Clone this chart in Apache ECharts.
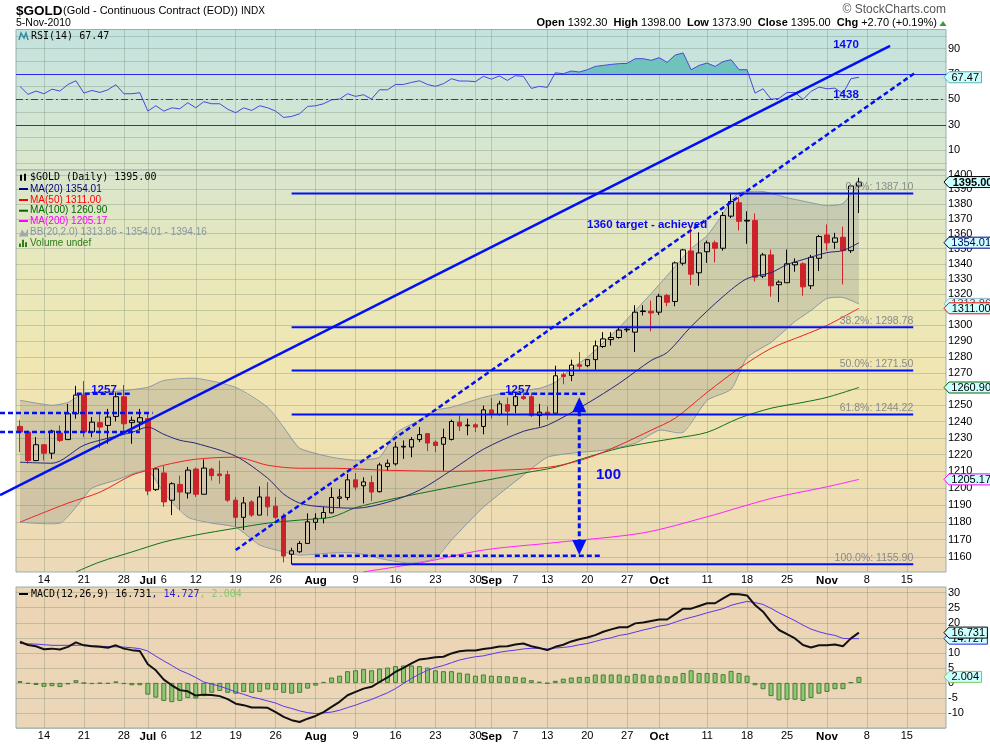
<!DOCTYPE html>
<html><head><meta charset="utf-8">
<script src="https://cdn.jsdelivr.net/npm/echarts@6/dist/echarts.min.js"></script>
<style>html,body{margin:0;padding:0;background:#fff}#c{width:990px;height:744px}</style>
</head><body><div id="c"></div>
<script>
// ---------------- DATA ----------------
// daily candles Jun 9 2010 .. Nov 5 2010 : [open, high, low, close]
const ohlc = [
[1237.0,1240.7,1221.4,1233.6],[1233.6,1234.6,1214.6,1216.4],[1216.4,1230.5,1216.0,1225.9],[1225.9,1226.0,1216.4,1220.8],
[1220.8,1235.0,1217.4,1234.2],[1233.0,1237.6,1227.5,1228.5],[1229.0,1250.8,1229.0,1244.7],[1244.7,1261.9,1241.7,1256.2],
[1256.2,1264.9,1230.5,1233.6],[1233.6,1242.7,1230.5,1239.6],[1239.3,1244.7,1224.0,1236.6],[1237.6,1247.7,1226.5,1242.7],
[1243.1,1257.8,1240.0,1255.2],[1255.2,1262.5,1233.6,1238.6],[1239.3,1243.0,1226.5,1240.7],[1239.6,1247.7,1234.6,1242.3],
[1241.7,1244.7,1195.8,1198.3],[1199.1,1212.0,1198.3,1211.4],[1209.0,1213.2,1189.0,1191.9],[1192.9,1203.5,1184.2,1202.6],
[1202.2,1207.4,1187.1,1197.7],[1197.1,1212.6,1193.9,1210.7],[1211.3,1212.2,1194.8,1196.4],[1196.4,1217.0,1196.4,1211.9],
[1211.3,1212.2,1204.5,1207.4],[1208.4,1216.4,1202.6,1207.4],[1208.0,1210.3,1191.9,1192.9],[1192.9,1194.8,1177.4,1182.9],
[1182.9,1194.8,1175.6,1191.3],[1191.9,1192.9,1183.2,1184.2],[1184.2,1201.0,1184.2,1194.8],[1194.8,1203.5,1183.6,1189.0],
[1189.4,1194.8,1181.7,1182.9],[1183.6,1185.2,1157.0,1160.6],[1161.6,1165.3,1155.9,1163.6],[1163.0,1169.1,1162.4,1167.8],
[1167.8,1185.2,1167.8,1180.3],[1180.0,1185.2,1175.6,1182.3],[1182.3,1189.0,1179.4,1185.7],[1185.5,1200.4,1185.2,1194.5],
[1194.0,1199.5,1188.8,1194.8],[1194.5,1208.4,1192.9,1204.9],[1204.9,1209.0,1198.7,1200.6],[1201.4,1206.4,1191.0,1203.7],
[1203.3,1207.4,1192.5,1197.7],[1197.9,1215.1,1197.4,1213.8],[1212.8,1217.0,1210.3,1214.8],[1214.4,1227.5,1213.4,1224.5],
[1224.5,1228.5,1217.4,1225.0],[1224.5,1230.5,1218.4,1229.0],[1229.0,1236.6,1227.5,1232.0],[1232.6,1233.0,1222.0,1226.9],
[1227.5,1228.5,1221.4,1225.4],[1226.2,1235.6,1210.3,1230.2],[1229.1,1241.1,1228.5,1240.0],[1239.6,1243.6,1234.2,1237.2],
[1237.4,1241.7,1231.6,1237.8],[1238.0,1239.0,1233.6,1236.6],[1237.0,1249.7,1232.2,1247.1],[1247.1,1254.3,1241.7,1244.3],
[1244.3,1252.7,1243.6,1250.8],[1250.3,1254.7,1237.6,1246.3],[1249.7,1257.8,1245.1,1255.2],[1255.2,1257.8,1253.1,1254.1],
[1255.2,1257.8,1242.7,1243.6],[1243.6,1250.8,1237.0,1245.7],[1245.7,1249.2,1241.1,1244.3],[1245.1,1274.5,1245.1,1268.2],
[1268.8,1270.3,1262.9,1267.8],[1268.4,1278.3,1264.9,1274.9],[1275.1,1283.1,1271.5,1274.1],[1274.5,1278.5,1273.6,1278.3],
[1278.3,1290.4,1272.0,1287.0],[1286.6,1295.7,1285.7,1291.4],[1291.0,1295.7,1287.2,1292.3],[1292.3,1299.1,1291.6,1297.0],
[1297.2,1299.1,1295.7,1297.6],[1295.7,1313.0,1283.1,1308.5],[1308.9,1313.0,1306.4,1309.3],[1309.1,1316.0,1296.3,1308.0],
[1308.5,1320.4,1306.7,1318.8],[1319.3,1320.4,1312.3,1314.9],[1315.4,1341.5,1312.3,1340.6],[1340.4,1349.9,1338.9,1349.2],
[1348.5,1364.8,1326.1,1333.2],[1334.1,1360.9,1325.6,1347.2],[1348.0,1355.4,1340.6,1353.9],[1353.9,1355.4,1341.0,1350.3],
[1350.3,1374.6,1348.7,1372.3],[1371.8,1387.1,1370.5,1381.7],[1380.8,1384.8,1362.2,1368.3],[1368.5,1375.1,1353.3,1369.0],
[1368.9,1373.6,1328.4,1331.2],[1331.9,1347.2,1330.6,1345.9],[1345.9,1349.4,1318.5,1325.6],[1326.3,1329.1,1315.0,1328.0],
[1327.6,1349.4,1327.6,1340.0],[1339.3,1343.6,1334.8,1341.0],[1340.0,1341.0,1319.1,1324.9],[1325.6,1345.9,1323.4,1344.3],
[1343.7,1359.2,1335.3,1358.1],[1359.2,1366.2,1348.7,1353.9],[1354.3,1360.6,1349.9,1357.2],[1357.6,1364.8,1326.5,1348.7],
[1348.7,1393.7,1347.2,1392.3],[1392.3,1398.0,1373.9,1395.0]
];
const rsi = [60.3,54,56.6,54.5,58.1,56.6,61.8,64.7,55,57.1,55.5,57.6,61.6,54.5,54.5,55.3,40.8,45,40.8,43.4,
42.6,47.4,43.4,48.2,46.6,46.6,42.3,39.5,43.4,41.3,45,43.4,40.8,35.8,36.6,38.7,44.5,45,46.6,49.7,
50.3,54.5,52.4,53.7,50.3,57.6,57.6,61.8,61.8,63.4,64.7,61.8,60.3,62.4,66.3,64.5,64.5,64,68.2,66,
68.5,65,68.7,68.2,58.7,60.3,59.5,71,70.3,72.4,71.6,73.4,76,76.8,77.6,78.2,78.4,82.1,82.1,80.8,
82.9,79.2,85,86.6,73.4,76.8,78.7,76,79.8,81.3,73.4,73.4,55,58.4,50.2,50.8,55.5,55.5,50,56.3,
59.7,58.4,58.9,54.5,66.3,67.47];
const macd = [13.7,12.6,12.2,11.2,11.4,11.1,12,13.5,12.5,12.2,12,11.7,12.5,11.4,10.9,10.6,
6.2,4.2,1.1,-0.8,-2.4,-2.8,-4.2,-3.9,-4,-4.4,-5.4,-6.9,-7.4,-8.2,-8.2,-8.3,-9.7,-11.3,-12.4,-13,-11.9,-11,-9.7,
-8,-6.3,-4.1,-3,-1.9,-1.3,0.3,1.8,3.7,5,6.5,7.8,8.1,8.5,8.7,9.8,10.5,10.8,10.8,11.3,11.6,12.1,12.2,12.8,13.1,12.2,11.6,10.9,12,12.7,13.8,14.5,15.1,15.9,17,17.8,18.5,18.5,19.8,20.1,20.6,21.1,
21.1,22.9,24.7,24.7,25.6,26.5,26.5,28.1,29.6,29.5,29.1,25.9,23.7,20.3,17.6,16.2,14.8,12.6,11.8,12.5,12.5,12.8,12.2,14.8,16.731];
const signal = [13.1,13.0,12.9,12.7,12.5,12.5,12.5,12.5,12.6,12.4,12.2,12.1,12,11.9,11.7,11.4,
10.6,8.9,7.3,5.8,4.2,3.1,1.8,0.3,-0.4,-1.1,-2,-3,-3.8,-4.7,-5.3,-6,-6.7,-7.8,-8.5,-9.3,-9.9,-10.2,-10,
-9.7,-9.1,-8.2,-7.4,-6.4,-5.5,-4.4,-3.3,-1.9,-0.2,1.5,2.9,4.2,5.1,5.8,6.7,7.6,8.2,8.7,9,9.6,10.2,10.6,10.9,11.3,11.5,11.5,11.3,11.6,11.8,12.1,12.7,13.1,13.8,14.5,15,15.8,16.2,16.9,17.6,18.2,18.9,
19.3,20.2,21.1,21.8,22.5,23.3,24,24.7,25.8,26.5,27.1,26.7,26.1,24.8,23.3,22,20.7,19.2,17.9,17,16.3,15.8,14.8,14.7,14.727];
const hist = [0.6,-0.3,-0.7,-1.3,-1.1,-1.4,-0.5,0.9,-0.1,-0.4,-0.2,-0.3,0.5,-0.4,-0.8,-0.8,
-3.9,-4.9,-6,-6.4,-6,-5,-5.2,-4.4,-3.3,-2.7,-3.3,-3.6,-3,-3.3,-3,-2.2,-2.4,-3.3,-3.6,-3.3,-1.9,-0.9,0.3,
1.8,2.4,3.9,4.2,4.6,4.2,4.8,5.1,5.6,5.8,5.8,5.6,5.1,4.2,3.9,3.9,3.4,3.1,2.4,2.8,2.4,2.3,2.2,2,1.8,0.9,0.4,-0.2,0.7,1.4,1.8,2,2,2.8,2.8,2.8,2.8,2.4,3,2.8,2.4,2.5,
2.2,2.2,3.3,4.2,3.3,3.3,3.3,2.9,4.0,3.3,2.4,-0.8,-2.1,-4.4,-5.8,-5.6,-5.6,-6.0,-5.0,-3.6,-3.0,-2.1,-2.1,0.2,2.004];
// indicator lines read at sample sessions: [session index, value]
const ma20 = [[0,1215.4],[4,1214.8],[8,1225.6],[11,1229.8],[14,1233.4],[16,1236.5],[18,1232.2],[20,1228.6],[22,1226.8],[27,1219.0],[31,1205.9],[33,1196.5],[35,1191.2],[37,1189.4],[42,1188.2],[46,1191.7],[50,1198.8],[54,1210.6],[58,1223.2],[63,1234.0],[66,1237.7],[71,1251.1],[75,1263.5],[79,1277.8],[81,1282.8],[84,1299.3],[88,1318.6],[91,1330.3],[94,1334.2],[96,1339.5],[98,1342.8],[101,1347.4],[103,1348.8],[105,1354.01]];
const ma50 = [[0,1180.1],[6,1191.2],[10,1197.6],[14,1207.7],[16,1210.6],[18,1213.6],[22,1217.2],[27,1218.4],[31,1213.6],[35,1211.8],[39,1211.8],[46,1210.6],[54,1210.0],[63,1211.2],[67,1213.0],[71,1217.8],[75,1225.6],[79,1234.7],[82,1242.0],[86,1257.9],[90,1272.8],[94,1285.4],[98,1293.6],[101,1300.0],[105,1311.0]];
const ma100 = [[7,1151.5],[10,1157.2],[14,1162.9],[18,1168.6],[22,1172.6],[27,1176.6],[31,1179.5],[35,1181.3],[39,1183.0],[42,1188.5],[46,1193.0],[54,1200.6],[63,1208.9],[67,1212.4],[71,1218.4],[75,1223.8],[79,1227.4],[82,1229.8],[86,1233.4],[90,1242.0],[94,1248.1],[98,1251.7],[101,1254.8],[105,1260.9]];
const ma200 = [[43,1151.6],[50,1156.6],[58,1164.0],[67,1168.3],[78,1173.9],[86,1183.2],[94,1193.9],[101,1200.8],[105,1205.17]];
const bbUpper = [[0,1253.0],[4,1249.9],[6,1251.7],[8,1257.3],[12,1258.5],[16,1261.0],[18,1265.3],[22,1266.6],[27,1261.0],[31,1248.7],[33,1236.5],[35,1223.8],[39,1218.4],[42,1216.6],[45,1218.4],[47,1232.8],[50,1240.8],[52,1246.9],[54,1248.7],[58,1254.8],[61,1257.9],[65,1260.4],[67,1264.1],[69,1272.8],[71,1279.7],[75,1298.7],[79,1320.6],[82,1338.2],[84,1350.1],[86,1358.7],[88,1373.5],[89,1382.3],[90,1387.8],[93,1388.5],[96,1384.3],[99,1380.9],[101,1378.9],[103,1380.3],[105,1394.16]];
const bbLower = [[0,1180.1],[5,1179.5],[7,1188.8],[9,1200.0],[12,1204.7],[16,1210.6],[18,1197.1],[21,1183.0],[24,1179.5],[27,1177.2],[30,1166.9],[33,1162.9],[35,1161.1],[39,1162.3],[42,1162.3],[46,1158.3],[49,1156.6],[52,1159.4],[54,1169.7],[58,1188.8],[63,1207.7],[66,1218.4],[69,1220.8],[73,1222.6],[77,1226.8],[80,1234.7],[83,1233.4],[86,1253.0],[89,1259.8],[91,1279.7],[94,1289.2],[97,1302.5],[99,1309.6],[101,1317.4],[103,1318.0],[105,1313.86]];
// x-axis labels: [session index, text]
const xLabels = [[3,'14'],[8,'21'],[13,'28'],[16,'Jul'],[18,'6'],[22,'12'],[27,'19'],[32,'26'],[37,'Aug'],[42,'9'],[47,'16'],[52,'23'],[57,'30'],[59,'Sep'],[62,'7'],[66,'13'],[71,'20'],[76,'27'],[80,'Oct'],[86,'11'],[91,'18'],[96,'25'],[101,'Nov'],[106,'8'],[111,'15']];
const xGridIdx = [3,8,13,16,22,27,32,37,42,47,52,57,59,66,71,76,80,86,91,96,101,106,111];
const priceTicks = [1160,1170,1180,1190,1200,1210,1220,1230,1240,1250,1260,1270,1280,1290,1300,1310,1320,1330,1340,1350,1360,1370,1380,1390,1400];
const rsiTicks = [10,30,50,70,90];
const rsiGrid = [0,10,20,30,40,50,60,70,80,90,100];
const rsiLevels = [[70,'solid'],[30,'solid'],[50,'dashdot']];
const macdTicks = [-10,-5,0,5,10,15,20,25,30];
const macdGrid = [-15,-10,-5,0,5,10,15,20,25,30];
const fibLevels = [['0.0%',1387.10],['38.2%',1298.78],['50.0%',1271.50],['61.8%',1244.22],['100.0%',1155.90]];
const fibSpan = [34, 111.8];
const trendLines = [{from:[-2.5,1195.9], to:[108.9,1491.6], dash:false},{from:[27.0,1164.0], to:[112.0,1471.9], dash:true}];
const dashLevels = [[-2.5,16.6,1245.2],[-2.5,15.0,1233.6],[7.1,14.0,1257.1],[60.1,71.0,1257.1],[36.9,72.6,1160.7]];
const moveArrow = {x:70, low:1161.1, high:1254.8};

// ---------------- CHART ----------------
const L = Math.log;
const X0 = -0.5, X1 = 115.9;
const PMIN = 1151.5, PMAX = 1403.3;
const FONT = '"Liberation Sans", Arial, sans-serif';
const MONO = '"DejaVu Sans Mono", monospace';
const GRIDC = 'rgba(105,128,105,0.30)';
const chart = echarts.init(document.getElementById('c'), null, {width:990, height:744});

function grad(stops){return {type:'linear',x:0,y:0,x2:0,y2:1,colorStops:stops.map((c,i)=>({offset:i/(stops.length-1),color:c}))};}
const grids = [
  {left:16, width:930, top:29.5, height:140.5, show:true, borderColor:'#9aaeae', borderWidth:1, backgroundColor:grad(['#c3e2df','#cfe5d8','#dbe7cb'])},
  {left:16, width:930, top:170, height:402, show:true, borderColor:'#9aaeae', borderWidth:1, backgroundColor:grad(['#d8e5cd','#e9e8bb','#f0e6b2','#efdfb2','#ecd9b8'])},
  {left:16, width:930, top:587, height:141, show:true, borderColor:'#9aaeae', borderWidth:1, backgroundColor:grad(['#ebd5b4','#ebd6b9'])}
];
function xAx(g, show){
  return {type:'value', gridIndex:g, min:X0, max:X1,
    axisLine:{show:false}, axisTick:{show:false, customValues:xGridIdx},
    splitLine:{show:true, lineStyle:{color:GRIDC, width:1}},
    axisLabel:{show:show, customValues:xLabels.map(d=>d[0]), margin:2.5, fontSize:11, color:'#000', fontFamily:FONT,
      formatter:v=>{const e=xLabels.find(d=>Math.abs(d[0]-v)<1e-6); if(!e) return ''; return isNaN(+e[1])?'{m|'+e[1]+'}':e[1];},
      rich:{m:{fontWeight:'bold', fontSize:11.5, fontFamily:FONT, color:'#000'}}}};
}
function yAx(g, min, max, labels, gridv, fmt){
  return {type:'value', gridIndex:g, position:'right', min:min, max:max,
    axisLine:{show:false}, axisTick:{show:false, customValues:gridv},
    splitLine:{show:true, lineStyle:{color:GRIDC, width:1}},
    axisLabel:{customValues:labels, margin:2, fontSize:11, color:'#000', fontFamily:FONT, formatter:fmt||(v=>String(v))}};
}
const series = [
  {type:'line', xAxisIndex:0, yAxisIndex:0, data:rsi.map((v,i)=>[i,v]), symbol:'none', silent:true, z:1,
   lineStyle:{width:0, opacity:0}, areaStyle:{opacity:1}},
  {type:'line', xAxisIndex:0, yAxisIndex:0, data:rsi.map((v,i)=>[i,v]), symbol:'none', silent:true, z:3,
   lineStyle:{color:'#4848da', width:1}},
  {type:'custom', xAxisIndex:1, yAxisIndex:1, data:[[0, L(1300)]], encode:{x:0,y:1}, silent:true, z:1,
   renderItem:function(params, api){
     const up = bbUpper.map(d=>api.coord([d[0], L(d[1])]));
     const lo = bbLower.map(d=>api.coord([d[0], L(d[1])]));
     return {type:'group', children:[
       {type:'polygon', shape:{points:up.concat(lo.slice().reverse())}, style:{fill:'rgba(125,125,125,0.25)'}},
       {type:'polyline', shape:{points:up, smooth:0.2}, style:{stroke:'#8d9aa3', fill:'none', lineWidth:1}},
       {type:'polyline', shape:{points:lo, smooth:0.2}, style:{stroke:'#8d9aa3', fill:'none', lineWidth:1}}]};
   }},
  {type:'candlestick', xAxisIndex:1, yAxisIndex:1, z:3, silent:true, barWidth:5,
   data:ohlc.map((d,i)=>[i, L(d[0]), L(d[3]), L(d[2]), L(d[1])]), encode:{x:0, y:[1,2,3,4]},
   itemStyle:{color:'rgba(0,0,0,0)', color0:'#cc2229', borderColor:'#000', borderColor0:'#cc2229', borderColorDoji:'#000', borderWidth:1}},
  {type:'line', xAxisIndex:1, yAxisIndex:1, data:ma200.map(d=>[d[0],L(d[1])]), symbol:'none', smooth:0.3, silent:true, z:4, lineStyle:{color:'#ff22ff', width:1}},
  {type:'line', xAxisIndex:1, yAxisIndex:1, data:ma100.map(d=>[d[0],L(d[1])]), symbol:'none', smooth:0.3, silent:true, z:4, lineStyle:{color:'#11701a', width:1}},
  {type:'line', xAxisIndex:1, yAxisIndex:1, data:ma50.map(d=>[d[0],L(d[1])]), symbol:'none', smooth:0.3, silent:true, z:4, lineStyle:{color:'#ee2222', width:1}},
  {type:'line', xAxisIndex:1, yAxisIndex:1, data:ma20.map(d=>[d[0],L(d[1])]), symbol:'none', smooth:0.3, silent:true, z:4, lineStyle:{color:'#26267a', width:1}},
  {type:'bar', xAxisIndex:2, yAxisIndex:2, data:hist.map((v,i)=>[i,v]), barWidth:5, silent:true, z:2,
   itemStyle:{color:'#8ec774', borderColor:'#4a7c34', borderWidth:1}},
  {type:'line', xAxisIndex:2, yAxisIndex:2, data:signal.map((v,i)=>[i,v]), symbol:'none', silent:true, z:3, lineStyle:{color:'#5b36e8', width:1}},
  {type:'line', xAxisIndex:2, yAxisIndex:2, data:macd.map((v,i)=>[i,v]), symbol:'none', silent:true, z:4, lineStyle:{color:'#111', width:2}}
];
chart.setOption({
  animation:false,
  backgroundColor:'#ffffff',
  textStyle:{fontFamily:FONT},
  grid:grids,
  xAxis:[xAx(0,false), xAx(1,true), xAx(2,true)],
  yAxis:[
    yAx(0,-5.6,105.1,rsiTicks,rsiGrid),
    yAx(1,L(PMIN),L(PMAX),priceTicks.map(L),priceTicks.map(L),v=>String(Math.round(Math.exp(v)))),
    yAx(2,-15,31.9,macdTicks,macdGrid)
  ],
  visualMap:[{type:'piecewise', show:false, seriesIndex:0, dimension:1,
    pieces:[{gt:70, lte:120, color:'#70c3bc'},{gte:-20, lte:70, color:'rgba(255,255,255,0)'}],
    outOfRange:{color:'rgba(255,255,255,0)'}}],
  series:series
});

// ---------------- ANNOTATIONS (positioned through the chart's own scales) ----------------
const P = (x,p)=>chart.convertToPixel({gridIndex:1},[x, L(p)]);
const R = v=>chart.convertToPixel({gridIndex:0},[0, v])[1];
const M = v=>chart.convertToPixel({gridIndex:2},[0, v])[1];
const BLUE = '#0010f5';
const els = [];
const Z = 100;
// RSI reference levels
rsiLevels.forEach(l=>{
  const y = Math.round(R(l[0]))+0.5;
  els.push({type:'line', z:50, silent:true, shape:{x1:16,y1:y,x2:946,y2:y}, style:{stroke:'#2a2ae8', lineWidth:1, lineDash:l[1]==='solid'?null:[7,3,2,3]}});
});
trendLines.forEach(t=>{
  const a=P(t.from[0],t.from[1]), b=P(t.to[0],t.to[1]);
  els.push({type:'line', z:Z, silent:true, shape:{x1:a[0],y1:a[1],x2:b[0],y2:b[1]}, style:{stroke:BLUE, lineWidth:2.5, lineDash:t.dash?[5,3]:null}});
});
fibLevels.forEach(f=>{
  const a=P(fibSpan[0],f[1]), b=P(fibSpan[1],f[1]);
  els.push({type:'line', z:Z, silent:true, shape:{x1:a[0],y1:a[1],x2:b[0],y2:b[1]}, style:{stroke:BLUE, lineWidth:2}});
  els.push({type:'text', z:Z, silent:true, x:b[0], y:a[1]-1, style:{text:f[0]+': '+f[1].toFixed(2), fill:'#8a8a8a', font:'10.5px '+FONT, align:'right', verticalAlign:'bottom'}});
});
dashLevels.forEach(d=>{
  const a=P(d[0],d[2]), b=P(d[1],d[2]);
  els.push({type:'line', z:Z, silent:true, shape:{x1:a[0],y1:a[1],x2:b[0],y2:b[1]}, style:{stroke:BLUE, lineWidth:2.5, lineDash:[5,3]}});
});
(function(){
  const top=P(moveArrow.x,moveArrow.high), bot=P(moveArrow.x,moveArrow.low), x=top[0];
  els.push({type:'line', z:Z, silent:true, shape:{x1:x,y1:top[1]+14,x2:x,y2:bot[1]-14}, style:{stroke:BLUE, lineWidth:3, lineDash:[5,3]}});
  els.push({type:'polygon', z:Z, silent:true, shape:{points:[[x,top[1]],[x-7,top[1]+15],[x+7,top[1]+15]]}, style:{fill:BLUE}});
  els.push({type:'polygon', z:Z, silent:true, shape:{points:[[x,bot[1]],[x-7,bot[1]-15],[x+7,bot[1]-15]]}, style:{fill:BLUE}});
})();
function txt(x,y,t,font,fill,align){return {type:'text', z:Z+5, silent:true, x:x, y:y, style:{text:t, font:font, fill:fill, align:align||'left', verticalAlign:'middle'}};}
const BF = 'bold 11.5px '+FONT;
els.push(txt(587,225,'1360 target - achieved',BF,'#0a0af0'));
els.push(txt(596,475,'100','bold 15px '+FONT,'#0a0af0'));
els.push(txt(846,45,'1470','bold 11.5px '+FONT,'#0a0af0','center'));
els.push(txt(846,95,'1438','bold 11.5px '+FONT,'#0a0af0','center'));
els.push(txt(104,390,'1257','bold 11.5px '+FONT,'#0a0af0','center'));
els.push(txt(518,390,'1257','bold 11.5px '+FONT,'#0a0af0','center'));

// value tags at the right edge
let tz = Z+20;
function tag(y, text, color, bold, tcol){
  const w = text.length*(bold?6.3:5.9)+3, x0=944, x1=949, h=5.5;
  els.push({type:'polygon', z:tz++, silent:true, shape:{points:[[x0,y],[x1,y-h],[x1+w,y-h],[x1+w,y+h],[x1,y+h]]}, style:{fill:'#ccffff', stroke:color, lineWidth:1}});
  els.push({type:'text', z:tz++, silent:true, x:x1+w/2, y:y+0.5, style:{text:text, fill:tcol||'#000', font:(bold?'bold ':'')+'11px '+FONT, align:'center', verticalAlign:'middle'}});
}
const priceTags = [[1395.00,'#000',true,'#000'],[1354.01,'#000080',false,'#000060'],[1313.86,'#9ab6cc',false,'#555'],[1311.00,'#ff0000',false,'#000'],[1260.90,'#0a640a',false,'#000'],[1205.17,'#ff00ff',false,'#000']];
priceTags.forEach(t=>tag(P(0,t[0])[1], t[0].toFixed(2), t[1], t[2], t[3]));
tag(R(67.47),'67.47','#5ab4b0',false,'#000');
tag(M(14.727),'14.727','#3020e0',false,'#000');
tag(M(16.731),'16.731','#000',false,'#000');
tag(M(2.004),'2.004','#82c862',false,'#000');

// headers & legends
els.push(txt(16,11,'$GOLD','bold 13.5px '+FONT,'#000'));
els.push(txt(63,11,'(Gold - Continuous Contract (EOD))','11px '+FONT,'#000'));
els.push(txt(241,11,'INDX','10px '+FONT,'#000'));
els.push(txt(16,23,'5-Nov-2010','10.5px '+FONT,'#000'));
els.push(txt(946,10,'\u00a9 StockCharts.com','12px '+FONT,'#555','right'));
els.push({type:'text', z:Z+5, silent:true, x:937, y:23, style:{
  text:'{b|Open} 1392.30  {b|High} 1398.00  {b|Low} 1373.90  {b|Close} 1395.00  {b|Chg} +2.70 (+0.19%)',
  font:'11px '+FONT, fill:'#000', align:'right', verticalAlign:'middle', rich:{b:{fontWeight:'bold', fontSize:11, fontFamily:FONT, fill:'#000'}}}});
els.push({type:'polygon', z:Z+5, silent:true, shape:{points:[[939.5,26],[943,21],[946.5,26]]}, style:{fill:'#3a9a3a'}});
// RSI title
els.push({type:'polyline', z:Z+5, silent:true, shape:{points:[[19,40],[21,33],[24,38],[26,33],[28,40]]}, style:{stroke:'#2f8f9f', fill:'none', lineWidth:1.5}});
els.push(txt(31,36,'RSI(14) 67.47','10px '+MONO,'#000'));
// price legend
const legend = [
  ['$GOLD (Daily) 1395.00','#000',177.7,true],
  ['MA(20) 1354.01','#000080',189],
  ['MA(50) 1311.00','#ff0000',200],
  ['MA(100) 1260.90','#006400',210.7],
  ['MA(200) 1205.17','#ff00ff',221],
  ['BB(20,2.0) 1313.86 - 1354.01 - 1394.16','#8696a0',232.5],
  ['Volume undef','#2e7d1a',243]
];
legend.forEach((l,k)=>{
  if(k===0){
    els.push({type:'rect', z:Z+5, silent:true, shape:{x:20,y:l[2]-3,width:2,height:6}, style:{fill:'#000'}});
    els.push({type:'rect', z:Z+5, silent:true, shape:{x:24,y:l[2]-4,width:2,height:7}, style:{fill:'#000'}});
    els.push(txt(30,l[2],l[0],'10px '+MONO,l[1]));
  } else {
    if(k===5){
      els.push({type:'polygon', z:Z+5, silent:true, shape:{points:[[19,l[2]+4],[22,l[2]-3],[25,l[2]+1],[28,l[2]-4],[28,l[2]+4]]}, style:{fill:'#a0aab0'}});
    } else if(k===6){
      [[19,3],[22,6],[25,4]].forEach(b=>els.push({type:'rect', z:Z+5, silent:true, shape:{x:b[0],y:l[2]+4-b[1]*1.2,width:2,height:b[1]*1.2}, style:{fill:l[1]}}));
    } else {
      els.push({type:'rect', z:Z+5, silent:true, shape:{x:19,y:l[2]-1,width:9,height:2}, style:{fill:l[1]}});
    }
    els.push(txt(30,l[2],l[0],'10px '+FONT,l[1]));
  }
});
// MACD title
els.push({type:'rect', z:Z+5, silent:true, shape:{x:19,y:593,width:9,height:2}, style:{fill:'#000'}});
els.push({type:'text', z:Z+5, silent:true, x:31, y:594.5, style:{text:'MACD(12,26,9) 16.731{s|, 14.727}{h|, 2.004}', font:'10px '+MONO, fill:'#000', verticalAlign:'middle',
  rich:{s:{fill:'#2a1ee0', font:'10px '+MONO}, h:{fill:'#88c870', font:'10px '+MONO}}}});

chart.setOption({graphic:{elements:els}});
</script>
</body></html>
